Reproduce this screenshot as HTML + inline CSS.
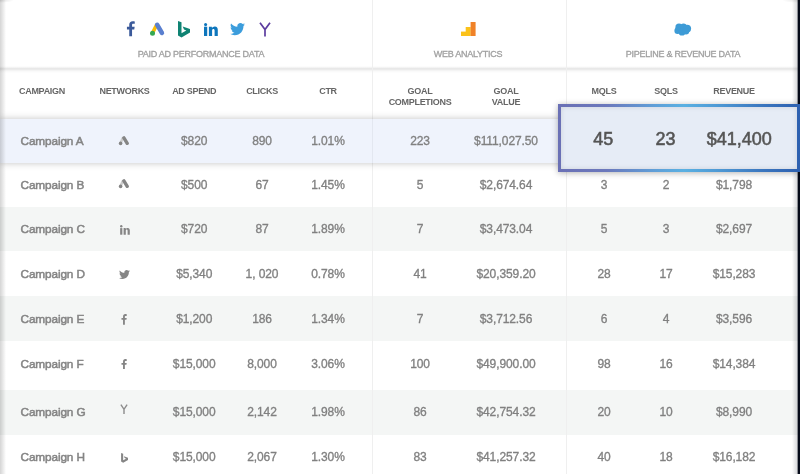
<!DOCTYPE html>
<html><head><meta charset="utf-8"><style>
*{margin:0;padding:0;box-sizing:border-box}
html,body{width:800px;height:474px;overflow:hidden;background:#050a18;font-family:"Liberation Sans",sans-serif}
#wrap{position:absolute;left:0;top:0;width:800px;height:474px;background:#050a18;will-change:transform}
#card{position:absolute;left:0;top:0;width:800px;height:474px;background:#fff;overflow:hidden}
#rsh{position:absolute;left:792px;top:0;width:8px;height:474px;background:linear-gradient(to right,rgba(5,10,24,0) 0px,rgba(5,10,24,.14) 4.7px,rgba(5,10,24,.5) 5.6px,rgba(5,10,24,1) 6.4px);z-index:9;border-top-right-radius:0}
#lsh{position:absolute;left:0;top:0;width:6px;height:474px;background:linear-gradient(to right,rgba(0,0,0,.17),rgba(0,0,0,0));z-index:20}
.vd{position:absolute;top:0;width:1px;height:474px;background:#efefef}
.c{position:absolute;top:0;height:100%;display:flex;align-items:center;justify-content:center;white-space:nowrap;color:#808080;font-size:12px;letter-spacing:-0.1px;-webkit-text-stroke:0.32px #808080}
.c.l{justify-content:flex-start}
.camp{font-size:11.8px;letter-spacing:-0.12px;color:#848484;-webkit-text-stroke:0.5px #848484}
.h{position:absolute;z-index:3;white-space:nowrap;color:#666;font-weight:bold;font-size:9px;letter-spacing:-0.3px;text-align:center;line-height:10.5px}
.lab{position:absolute;z-index:3;white-space:nowrap;color:#a0a0a0;font-size:9px;letter-spacing:-0.25px;top:49px;text-align:center;-webkit-text-stroke:0.3px #a0a0a0}
.big{position:absolute;top:1.5px;height:100%;display:flex;align-items:center;justify-content:center;font-size:18px;color:#555;-webkit-text-stroke:0.55px #555}
</style></head><body>
<div id="wrap">
<div id="card">

  <div style="position:absolute;left:0;top:65.5px;width:798px;height:7.5px;z-index:3;background:linear-gradient(to bottom,rgba(0,0,0,0) 0px,rgba(0,0,0,.025) 1px,rgba(0,0,0,.065) 2px,rgba(0,0,0,.1) 2.75px,rgba(0,0,0,.08) 3.5px,rgba(0,0,0,.045) 4.5px,rgba(0,0,0,.02) 5.5px,rgba(0,0,0,0) 7.5px)"></div>

<div style="position:absolute;left:0;top:118.5px;width:798px;height:44.30000000000001px;background:#eff3fc;box-shadow:0 0 7px rgba(0,0,0,.24);z-index:5"></div><div style="position:absolute;left:0;top:162.8px;width:798px;height:43.79999999999998px;background:#fff"></div><div style="position:absolute;left:0;top:206.6px;width:798px;height:44.400000000000006px;background:#f4f6f5"></div><div style="position:absolute;left:0;top:251px;width:798px;height:45.39999999999998px;background:#fff"></div><div style="position:absolute;left:0;top:296.4px;width:798px;height:44.700000000000045px;background:#f4f6f5"></div><div style="position:absolute;left:0;top:341.1px;width:798px;height:49.299999999999955px;background:#fff"></div><div style="position:absolute;left:0;top:390.4px;width:798px;height:44.200000000000045px;background:#f4f6f5"></div><div style="position:absolute;left:0;top:434.6px;width:798px;height:45.39999999999998px;background:#fff"></div>
<div class="vd" style="left:372px;z-index:4"></div>
<div class="vd" style="left:566px;z-index:4"></div>
<div class="vd" style="left:372px;top:118.5px;height:44.5px;z-index:6;background:#e3e7f0"></div>

  <div class="h" style="left:19px;top:86.2px">CAMPAIGN</div>
  <div class="h" style="left:84.5px;top:86.2px;width:80px">NETWORKS</div>
  <div class="h" style="left:154.2px;top:86.2px;width:80px">AD SPEND</div>
  <div class="h" style="left:222px;top:86.2px;width:80px">CLICKS</div>
  <div class="h" style="left:288px;top:86.2px;width:80px">CTR</div>
  <div class="h" style="left:370px;top:86.2px;width:100px">GOAL<br>COMPLETIONS</div>
  <div class="h" style="left:466px;top:86.2px;width:80px">GOAL<br>VALUE</div>
  <div class="h" style="left:564px;top:86.2px;width:80px">MQLS</div>
  <div class="h" style="left:626px;top:86.2px;width:80px">SQLS</div>
  <div class="h" style="left:694px;top:86.2px;width:80px">REVENUE</div>
  <div class="lab" style="left:100px;width:202px">PAID AD PERFORMANCE DATA</div>
  <div class="lab" style="left:418px;width:100px">WEB ANALYTICS</div>
  <div class="lab" style="left:600px;width:166px">PIPELINE &amp; REVENUE DATA</div>


  <svg style="position:absolute;left:125.6px;top:21.4px;z-index:3" width="9.4" height="15.2" viewBox="0 0 9 15" preserveAspectRatio="none"><path fill="#3b5a9a" d="M5.8 15V8.3h2.1l.4-2.6H5.8V4.1c0-.8.2-1.3 1.3-1.3h1.3V.5C8.1.4 7.4.3 6.4.3 4.4.3 3.1 1.5 3.1 3.7v2H.9v2.6h2.2V15z"/></svg>
  <svg style="position:absolute;left:148px;top:21px;z-index:3" width="18" height="16" viewBox="0 0 18 16"><path d="M8.4 4.4 L4.6 11.8" stroke="#fbbc04" stroke-width="3.6" stroke-linecap="round"/><path d="M9.2 3.8 L13.9 11.9" stroke="#5a7fcf" stroke-width="4.6" stroke-linecap="round"/><circle cx="4.5" cy="12.3" r="2.5" fill="#34a853"/></svg>
  <svg style="position:absolute;left:178px;top:21px;z-index:3" width="12" height="16.5" viewBox="0 0 12 16.5"><path fill="#0f8373" d="M0 0 L3.5 1.2 V12.3 L8.3 9.6 L6 8.5 L4.7 5.5 L12 8 V11.5 L3.5 16.5 L0 14.5 Z"/></svg>
  <svg style="position:absolute;left:204.1px;top:22.5px;z-index:3" width="14" height="13.5" viewBox="0 0 14 13.5"><g fill="#0e76bc"><circle cx="1.6" cy="1.6" r="1.55"/><rect x="0" y="3.7" width="3.2" height="9.8"/><path d="M4.9 3.7 H7.9 V5.1 C8.4 4.2 9.4 3.4 10.9 3.4 C12.9 3.4 13.8 4.6 13.8 6.9 V13.5 H10.6 V7.5 C10.6 6.5 10.2 5.9 9.4 5.9 C8.5 5.9 8.1 6.6 8.1 7.6 V13.5 H4.9 Z"/></g></svg>
  <svg style="position:absolute;left:229.7px;top:23px;z-index:3" width="15" height="12.5" viewBox="0 0 24 20"><path fill="#3c9ddc" d="M24 2.4c-.9.4-1.8.7-2.8.8 1-.6 1.8-1.6 2.2-2.7-1 .6-2 1-3.1 1.2C19.3.7 18 0 16.6 0c-2.7 0-4.9 2.2-4.9 4.9 0 .4 0 .8.1 1.1C7.7 5.8 4.1 3.9 1.7.9c-.4.7-.7 1.6-.7 2.5 0 1.7.9 3.2 2.2 4.1-.8 0-1.6-.2-2.2-.6v.1c0 2.4 1.7 4.4 3.9 4.8-.4.1-.8.2-1.3.2-.3 0-.6 0-.9-.1.6 2 2.4 3.4 4.6 3.4-1.7 1.3-3.8 2.1-6.1 2.1-.4 0-.8 0-1.2-.1 2.2 1.4 4.8 2.2 7.5 2.2 9.1 0 14-7.5 14-14v-.6c1-.7 1.8-1.6 2.5-2.5z"/></svg>
  <svg style="position:absolute;left:258.5px;top:21.5px;z-index:3" width="12" height="15" viewBox="0 0 12 15"><path d="M1 .7 L6 7.6 L11 .7 M6 7.6 V14.6" stroke="#5c3c9f" stroke-width="1.7" fill="none"/></svg>
  <svg style="position:absolute;left:461.3px;top:21.8px;z-index:3" width="15" height="14.2" viewBox="0 0 15 14.2"><rect x="0" y="9.6" width="5" height="4.6" fill="#fbc21a"/><rect x="4.7" y="5" width="5" height="9.2" fill="#fbc21a"/><rect x="9.6" y="0" width="5" height="14.2" fill="#f08228"/></svg>
  <svg style="position:absolute;left:673.5px;top:22.5px;z-index:3" width="18" height="13" viewBox="0 0 18 13"><g fill="#3d9bd6"><circle cx="5" cy="4.2" r="3.6"/><circle cx="9.5" cy="3.6" r="3.2"/><circle cx="13.2" cy="5.6" r="3.9"/><circle cx="3.6" cy="7.8" r="3.2"/><circle cx="8" cy="9.2" r="3.4"/><circle cx="12" cy="8.2" r="3.2"/></g></svg>

<svg style="position:absolute;left:117.8px;top:136.2px;z-index:7" width="12" height="10" viewBox="0 0 12 10"><path d="M4.6 2.4 L2.6 7" stroke="#cdcdcd" stroke-width="2.6" stroke-linecap="round"/><path d="M5.9 1.9 L9.2 7.3" stroke="#858585" stroke-width="3.4" stroke-linecap="round"/><circle cx="2.6" cy="7.4" r="1.8" fill="#858585"/></svg><div style="position:absolute;left:0;top:118.7px;width:798px;height:44.30000000000001px;z-index:7"><div class="c l camp" style="left:20.5px">Campaign A</div><div class="c" style="left:154.2px;width:80px">$820</div><div class="c" style="left:222px;width:80px">890</div><div class="c" style="left:288px;width:80px">1.01%</div><div class="c" style="left:380px;width:80px">223</div><div class="c" style="left:466px;width:80px">$111,027.50</div></div><svg style="position:absolute;left:118.3px;top:179.4px;z-index:1" width="12" height="10" viewBox="0 0 12 10"><path d="M4.6 2.4 L2.6 7" stroke="#cdcdcd" stroke-width="2.6" stroke-linecap="round"/><path d="M5.9 1.9 L9.2 7.3" stroke="#858585" stroke-width="3.4" stroke-linecap="round"/><circle cx="2.6" cy="7.4" r="1.8" fill="#858585"/></svg><div style="position:absolute;left:0;top:163.0px;width:798px;height:43.79999999999998px;z-index:1"><div class="c l camp" style="left:20.5px">Campaign B</div><div class="c" style="left:154.2px;width:80px">$500</div><div class="c" style="left:222px;width:80px">67</div><div class="c" style="left:288px;width:80px">1.45%</div><div class="c" style="left:380px;width:80px">5</div><div class="c" style="left:466px;width:80px">$2,674.64</div><div class="c" style="left:564px;width:80px">3</div><div class="c" style="left:626px;width:80px">2</div><div class="c" style="left:694px;width:80px">$1,798</div></div><svg style="position:absolute;left:119.6px;top:224.6px;z-index:1" width="10" height="10" viewBox="0 0 10 10"><circle cx="1.25" cy="1.25" r="1.2" fill="#858585"/><rect x="0.15" y="3.1" width="2.2" height="6.6" fill="#858585"/><path fill="#858585" d="M3.6 3.1 H5.7 V4.1 C6.1 3.4 6.9 2.9 7.8 2.9 C9.2 2.9 9.8 3.8 9.8 5.3 V9.7 H7.6 V5.8 C7.6 5 7.3 4.6 6.7 4.6 C6.1 4.6 5.8 5.1 5.8 5.9 V9.7 H3.6 Z"/></svg><div style="position:absolute;left:0;top:206.79999999999998px;width:798px;height:44.400000000000006px;z-index:1"><div class="c l camp" style="left:20.5px">Campaign C</div><div class="c" style="left:154.2px;width:80px">$720</div><div class="c" style="left:222px;width:80px">87</div><div class="c" style="left:288px;width:80px">1.89%</div><div class="c" style="left:380px;width:80px">7</div><div class="c" style="left:466px;width:80px">$3,473.04</div><div class="c" style="left:564px;width:80px">5</div><div class="c" style="left:626px;width:80px">3</div><div class="c" style="left:694px;width:80px">$2,697</div></div><svg style="position:absolute;left:119.3px;top:269.6px;z-index:1" width="11" height="9.2" viewBox="0 0 24 20"><path fill="#858585" d="M24 2.4c-.9.4-1.8.7-2.8.8 1-.6 1.8-1.6 2.2-2.7-1 .6-2 1-3.1 1.2C19.3.7 18 0 16.6 0c-2.7 0-4.9 2.2-4.9 4.9 0 .4 0 .8.1 1.1C7.7 5.8 4.1 3.9 1.7.9c-.4.7-.7 1.6-.7 2.5 0 1.7.9 3.2 2.2 4.1-.8 0-1.6-.2-2.2-.6v.1c0 2.4 1.7 4.4 3.9 4.8-.4.1-.8.2-1.3.2-.3 0-.6 0-.9-.1.6 2 2.4 3.4 4.6 3.4-1.7 1.3-3.8 2.1-6.1 2.1-.4 0-.8 0-1.2-.1 2.2 1.4 4.8 2.2 7.5 2.2 9.1 0 14-7.5 14-14v-.6c1-.7 1.8-1.6 2.5-2.5z"/></svg><div style="position:absolute;left:0;top:251.4px;width:798px;height:45.39999999999998px;z-index:1"><div class="c l camp" style="left:20.5px">Campaign D</div><div class="c" style="left:154.2px;width:80px">$5,340</div><div class="c" style="left:222px;width:80px">1, 020</div><div class="c" style="left:288px;width:80px">0.78%</div><div class="c" style="left:380px;width:80px">41</div><div class="c" style="left:466px;width:80px">$20,359.20</div><div class="c" style="left:564px;width:80px">28</div><div class="c" style="left:626px;width:80px">17</div><div class="c" style="left:694px;width:80px">$15,283</div></div><svg style="position:absolute;left:121.1px;top:313.9px;z-index:1" width="6" height="10.7" viewBox="0 0 6 11"><path fill="#858585" d="M3.9 11V6h1.6l.3-1.9H3.9V2.9c0-.6.2-.9.9-.9h1V.2C5.6.1 5 0 4.3 0 2.9 0 2 .9 2 2.5v1.6H.4V6H2v5z"/></svg><div style="position:absolute;left:0;top:296.5px;width:798px;height:44.700000000000045px;z-index:1"><div class="c l camp" style="left:20.5px">Campaign E</div><div class="c" style="left:154.2px;width:80px">$1,200</div><div class="c" style="left:222px;width:80px">186</div><div class="c" style="left:288px;width:80px">1.34%</div><div class="c" style="left:380px;width:80px">7</div><div class="c" style="left:466px;width:80px">$3,712.56</div><div class="c" style="left:564px;width:80px">6</div><div class="c" style="left:626px;width:80px">4</div><div class="c" style="left:694px;width:80px">$3,596</div></div><svg style="position:absolute;left:121.1px;top:358.8px;z-index:1" width="6" height="10.7" viewBox="0 0 6 11"><path fill="#858585" d="M3.9 11V6h1.6l.3-1.9H3.9V2.9c0-.6.2-.9.9-.9h1V.2C5.6.1 5 0 4.3 0 2.9 0 2 .9 2 2.5v1.6H.4V6H2v5z"/></svg><div style="position:absolute;left:0;top:339.5px;width:798px;height:49.299999999999955px;z-index:1"><div class="c l camp" style="left:20.5px">Campaign F</div><div class="c" style="left:154.2px;width:80px">$15,000</div><div class="c" style="left:222px;width:80px">8,000</div><div class="c" style="left:288px;width:80px">3.06%</div><div class="c" style="left:380px;width:80px">100</div><div class="c" style="left:466px;width:80px">$49,900.00</div><div class="c" style="left:564px;width:80px">98</div><div class="c" style="left:626px;width:80px">16</div><div class="c" style="left:694px;width:80px">$14,384</div></div><svg style="position:absolute;left:120.4px;top:403.6px;z-index:1" width="8" height="10.4" viewBox="0 0 8 10.4"><path d="M.9 .6 L4 5.3 L7.1 .6 M4 5.3 V10.2" stroke="#8c8c8c" stroke-width="1.4" fill="none"/></svg><div style="position:absolute;left:0;top:390.29999999999995px;width:798px;height:44.200000000000045px;z-index:1"><div class="c l camp" style="left:20.5px">Campaign G</div><div class="c" style="left:154.2px;width:80px">$15,000</div><div class="c" style="left:222px;width:80px">2,142</div><div class="c" style="left:288px;width:80px">1.98%</div><div class="c" style="left:380px;width:80px">86</div><div class="c" style="left:466px;width:80px">$42,754.32</div><div class="c" style="left:564px;width:80px">20</div><div class="c" style="left:626px;width:80px">10</div><div class="c" style="left:694px;width:80px">$8,990</div></div><svg style="position:absolute;left:120.7px;top:453.0px;z-index:1" width="7.3" height="9.8" viewBox="0 0 12 16.5"><path fill="#858585" d="M0 0 L3.5 1.2 V12.3 L8.3 9.6 L6 8.5 L4.7 5.5 L12 8 V11.5 L3.5 16.5 L0 14.5 Z"/></svg><div style="position:absolute;left:0;top:433.90000000000003px;width:798px;height:45.39999999999998px;z-index:1"><div class="c l camp" style="left:20.5px">Campaign H</div><div class="c" style="left:154.2px;width:80px">$15,000</div><div class="c" style="left:222px;width:80px">2,067</div><div class="c" style="left:288px;width:80px">1.30%</div><div class="c" style="left:380px;width:80px">83</div><div class="c" style="left:466px;width:80px">$41,257.32</div><div class="c" style="left:564px;width:80px">40</div><div class="c" style="left:626px;width:80px">18</div><div class="c" style="left:694px;width:80px">$16,182</div></div>
</div>

<div style="position:absolute;left:557.5px;top:104.2px;width:242.5px;height:67.6px;z-index:10;padding:3px;background:linear-gradient(90deg,#6a70b5 0%,#6b78bc 20%,#5f9fd8 40%,#5ab0e2 52%,#4f9bd6 65%,#3a75be 85%,#2d60b0 100%);box-shadow:0 1px 6px rgba(0,0,0,.3)">
  <div style="position:relative;width:100%;height:100%;background:#e6ecf6;box-shadow:inset 0 0 5px rgba(0,0,0,.12)">
    <div class="big" style="left:0;width:85.4px">45</div>
    <div class="big" style="left:59.6px;width:91px">23</div>
    <div class="big" style="left:128.7px;width:100px">$41,400</div>
  </div>
</div>

<div id="lsh"></div><div id="rsh"></div><div style="position:absolute;left:0;top:0;width:14px;height:4px;z-index:21;background:radial-gradient(ellipse 14px 3px at 0 0,rgba(0,0,0,.12),rgba(0,0,0,0))"></div><div style="position:absolute;left:782px;top:0;width:16px;height:4px;z-index:21;background:radial-gradient(ellipse 16px 3px at 100% 0,rgba(0,0,0,.1),rgba(0,0,0,0))"></div>
</div>
</body></html>
